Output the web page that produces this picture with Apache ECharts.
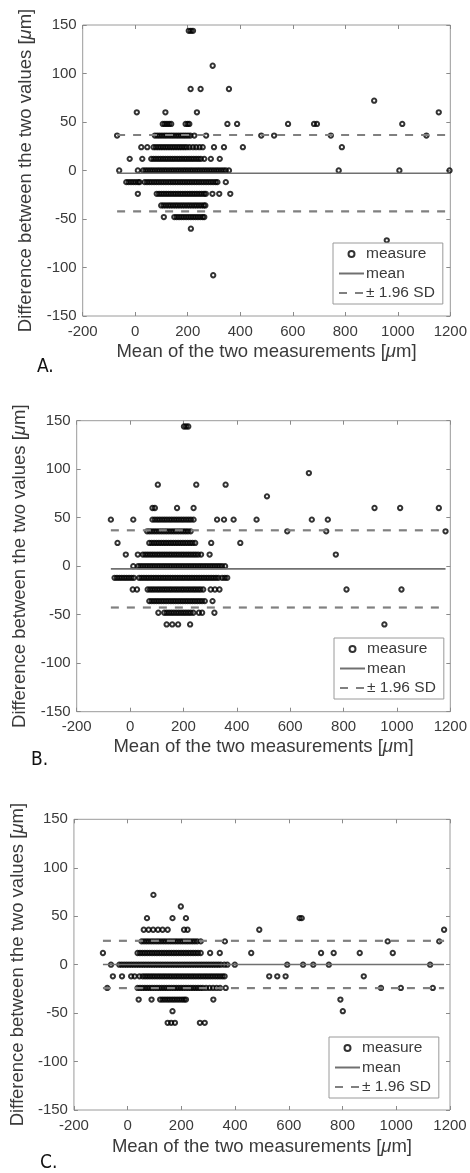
<!DOCTYPE html>
<html>
<head>
<meta charset="utf-8">
<title>Bland-Altman</title>
<style>
  html, body { margin: 0; padding: 0; background: #fff; }
  #main { width: 470px; height: 1173px; }
</style>
</head>
<body>
<div id="main"></div>
<script src="https://cdn.jsdelivr.net/npm/echarts@6/dist/echarts.min.js"></script>
<script>
// axis ticks
var xTicks = [-200, 0, 200, 400, 600, 800, 1000, 1200];
var yTicks = [-150, -100, -50, 0, 50, 100, 150];

// each row: [difference, [means of the two measurements ...]]
var rowsA = [
  [144, [204, 212, 220]],
  [108, [295]],
  [84, [211, 249, 357]],
  [72, [910]],
  [60, [6, 115, 235, 1156]],
  [48, [105, 113, 121, 129, 137, 192, 200, 206, 351, 388, 582, 681, 692, 1017]],
  [36, [-69, 75, 84, 93, 102, 111, 120, 129, 138, 147, 156, 165, 174, 183, 192, 201, 210, 225, 270, 480, 529, 745, 1109]],
  [24, [23, 46, 70, 79, 88, 97, 106, 115, 124, 133, 142, 151, 160, 169, 178, 187, 196, 207, 220, 232, 245, 257, 300, 338, 410, 787]],
  [12, [-21, 27, 61, 70, 79, 88, 97, 106, 115, 124, 133, 142, 151, 160, 169, 178, 187, 196, 205, 214, 223, 232, 241, 250, 263, 288, 322]],
  [0, [-61, 10, 30, 39, 48, 57, 66, 75, 84, 93, 102, 111, 120, 129, 138, 147, 156, 165, 174, 183, 192, 201, 210, 219, 228, 237, 246, 255, 264, 273, 282, 291, 300, 309, 318, 327, 336, 345, 357, 775, 1006, 1197]],
  [-12, [-34, -25, -16, -7, 2, 11, 17, 36, 45, 54, 63, 72, 81, 90, 99, 108, 117, 126, 135, 144, 153, 162, 171, 180, 189, 198, 207, 216, 225, 234, 243, 252, 261, 270, 279, 288, 297, 306, 313, 345]],
  [-24, [10, 82, 91, 100, 109, 118, 127, 136, 145, 154, 163, 172, 181, 190, 199, 208, 217, 226, 235, 244, 253, 262, 269, 294, 320, 362]],
  [-36, [99, 108, 117, 126, 135, 144, 153, 162, 171, 180, 189, 198, 207, 216, 225, 234, 243, 252, 261, 267]],
  [-48, [109, 149, 158, 167, 176, 185, 194, 203, 212, 221, 230, 239, 248, 257, 263]],
  [-60, [212]],
  [-72, [958]],
  [-108, [297]]
];

var rowsB = [
  [144, [202, 210, 218]],
  [96, [670]],
  [84, [104, 248, 358]],
  [72, [513]],
  [60, [84, 93, 176, 238, 916, 1012, 1157]],
  [48, [-72, 12, 84, 93, 102, 111, 120, 129, 138, 147, 156, 165, 174, 183, 192, 201, 210, 219, 228, 238, 326, 352, 388, 474, 681, 741]],
  [36, [64, 73, 82, 91, 100, 109, 118, 127, 136, 145, 154, 163, 172, 181, 190, 199, 208, 217, 227, 589, 735, 1182]],
  [24, [-47, 72, 81, 90, 99, 108, 117, 126, 135, 144, 153, 162, 171, 180, 189, 198, 207, 216, 225, 234, 244, 304, 413]],
  [12, [-16, 29, 48, 57, 66, 75, 84, 93, 102, 111, 120, 129, 138, 147, 156, 165, 174, 183, 192, 201, 210, 219, 228, 237, 246, 255, 266, 298, 771]],
  [0, [12, 30, 39, 48, 57, 66, 75, 84, 93, 102, 111, 120, 129, 138, 147, 156, 165, 174, 183, 192, 201, 210, 219, 228, 237, 246, 255, 264, 273, 282, 291, 300, 309, 318, 327, 336, 345, 356]],
  [-12, [-58, -49, -40, -31, -22, -13, -4, 5, 14, 34, 43, 52, 61, 70, 79, 88, 97, 106, 115, 124, 133, 142, 151, 160, 169, 178, 187, 196, 205, 214, 223, 232, 241, 250, 259, 268, 277, 286, 295, 304, 313, 322, 331, 345, 355, 364]],
  [-24, [10, 26, 66, 75, 84, 93, 102, 111, 120, 129, 138, 147, 156, 165, 174, 183, 192, 201, 210, 219, 228, 237, 246, 255, 264, 274, 302, 318, 335, 811, 1017]],
  [-36, [72, 81, 90, 99, 108, 117, 126, 135, 144, 153, 162, 171, 180, 189, 198, 207, 216, 225, 234, 243, 252, 261, 270, 280, 309]],
  [-48, [106, 128, 137, 146, 155, 164, 173, 182, 191, 200, 209, 218, 227, 237, 258, 270, 316]],
  [-60, [137, 158, 180, 225, 953]]
];

var rowsC = [
  [72, [96]],
  [60, [198]],
  [48, [72, 167, 217, 640, 648]],
  [36, [60, 78, 95, 113, 130, 149, 210, 223, 490, 1178]],
  [24, [52, 61, 70, 79, 88, 97, 106, 115, 124, 133, 142, 151, 160, 169, 178, 187, 196, 205, 214, 223, 232, 241, 250, 259, 272, 362, 968, 1160]],
  [12, [-92, 37, 46, 55, 64, 73, 82, 91, 100, 109, 118, 127, 136, 145, 154, 163, 172, 181, 190, 199, 208, 217, 226, 235, 244, 253, 262, 272, 307, 343, 460, 720, 767, 864, 987]],
  [0, [-62, -31, -22, -13, -4, 5, 14, 23, 32, 41, 50, 59, 68, 77, 86, 95, 104, 113, 122, 131, 140, 149, 158, 167, 176, 185, 194, 203, 212, 221, 230, 239, 248, 257, 266, 275, 284, 293, 302, 311, 320, 329, 338, 347, 360, 371, 399, 594, 653, 691, 749, 1126]],
  [-12, [-55, -21, 13, 26, 44, 56, 65, 74, 83, 92, 101, 110, 119, 128, 137, 146, 155, 164, 173, 182, 191, 200, 209, 218, 227, 236, 245, 254, 263, 272, 281, 290, 299, 308, 317, 326, 335, 344, 353, 361, 527, 557, 588, 879]],
  [-24, [-76, 37, 46, 55, 64, 73, 82, 91, 100, 109, 118, 127, 136, 145, 154, 163, 172, 181, 190, 199, 208, 217, 226, 235, 244, 253, 262, 271, 280, 292, 305, 318, 331, 344, 365, 943, 1017, 1136]],
  [-36, [41, 89, 121, 130, 139, 148, 157, 166, 175, 184, 193, 202, 210, 217, 319, 792]],
  [-48, [167, 801]],
  [-60, [149, 162, 176, 269, 287]]
];

// mean difference and limits of agreement per panel (A, B, C)
var meanDiff = [-2.8, -2.8, 0.2];
var upperLoa = [36.6, 37.0, 24.6];
var lowerLoa = [-42.1, -42.6, -24.2];
var panelLabels = ['A.', 'B.', 'C.'];

var FONT = 'Liberation Sans, Arial, Helvetica, sans-serif';
var TXT = '#3a3a3a';
var HIDE = 'rgba(0,0,0,0)';

var myChart = echarts.init(document.getElementById('main'));

// plot boxes, in pixels
var boxes = [
  { left: 82.7, top: 25, width: 370, height: 291 },
  { left: 76.7, top: 420.7, width: 378.3, height: 291 },
  { left: 72.7, top: 819.3, width: 377.3, height: 290.7 }
];
var nameGapX = [26, 25.5, 27];
var nameGapY = [41, 42, 41.5];
var legendPos = [
  { left: 333, top: 243 },
  { left: 334, top: 638 },
  { left: 329, top: 1037 }
];
var letterPos = [
  { left: 37, top: 358 },
  { left: 31, top: 751 },
  { left: 40, top: 1154 }
];

function toPoints(rows) {
  var pts = [];
  rows.forEach(function (r) {
    r[1].forEach(function (m) { pts.push([m, r[0]]); });
  });
  return pts;
}

var allRows = [rowsA, rowsB, rowsC];
var grid = [], xAxis = [], yAxis = [], series = [], legend = [], graphic = [];

for (var i = 0; i < 3; i++) {
  var b = boxes[i];
  grid.push({ left: b.left, top: b.top, width: b.width, height: b.height,
    show: true, borderColor: '#9a9a9a', borderWidth: 1, backgroundColor: '#fff' });

  var tickStyle = { show: true, inside: true, length: 4, lineStyle: { color: '#8a8a8a', width: 1 } };
  var noLine = { show: false, onZero: false };
  var titleStyle = { fontSize: 18.5, color: TXT, fontFamily: FONT,
    rich: { mu: { fontSize: 18.5, color: TXT, fontFamily: FONT, fontStyle: 'italic' } } };

  var xMain = {
    type: 'value', gridIndex: i, position: 'bottom', min: -200, max: 1200, interval: 200,
    axisLine: noLine, splitLine: { show: false }, axisTick: tickStyle,
    axisLabel: { fontSize: 15, color: TXT, fontFamily: FONT, margin: 8,
      formatter: function (v) { return xTicks.indexOf(v) >= 0 ? String(v) : ''; } },
    name: 'Mean of the two measurements [{mu|μ}m]', nameLocation: 'middle', nameGap: nameGapX[i],
    nameTextStyle: titleStyle
  };
  var xTop = {
    type: 'value', gridIndex: i, position: 'top', min: -200, max: 1200, interval: 200,
    axisLine: noLine, splitLine: { show: false }, axisTick: tickStyle,
    axisLabel: { show: false }
  };
  var yMain = {
    type: 'value', gridIndex: i, position: 'left', min: -150, max: 150, interval: 50,
    axisLine: noLine, splitLine: { show: false }, axisTick: tickStyle,
    axisLabel: { fontSize: 15, color: TXT, fontFamily: FONT, margin: 6,
      formatter: function (v) { return yTicks.indexOf(v) >= 0 ? String(v) : ''; } },
    name: 'Difference between the two values [{mu|μ}m]', nameLocation: 'middle', nameGap: nameGapY[i],
    nameRotate: 90, nameTextStyle: titleStyle
  };
  var yRight = {
    type: 'value', gridIndex: i, position: 'right', min: -150, max: 150, interval: 50,
    axisLine: noLine, splitLine: { show: false }, axisTick: tickStyle,
    axisLabel: { show: false }
  };
  xAxis.push(xMain, xTop);
  yAxis.push(yMain, yRight);

  var pts = toPoints(allRows[i]);
  var xs = pts.map(function (p) { return p[0]; });
  var xMin = Math.min.apply(null, xs), xMax = Math.max.apply(null, xs);

  series.push({
    name: 'measure', type: 'scatter', xAxisIndex: 2 * i, yAxisIndex: 2 * i,
    symbol: 'circle', symbolSize: 4.3, data: pts, silent: true,
    itemStyle: { color: HIDE, borderColor: '#000', borderWidth: 2 }
  });
  series.push({
    name: 'mean', type: 'line', xAxisIndex: 2 * i, yAxisIndex: 2 * i, symbol: 'none', silent: true,
    data: [[xMin, meanDiff[i]], [xMax, meanDiff[i]]],
    itemStyle: { color: '#707070' },
    lineStyle: { color: '#707070', width: 1.6, type: 'solid' }, z: 3
  });
  [upperLoa[i], lowerLoa[i]].forEach(function (v) {
    series.push({
      name: '± 1.96 SD', type: 'line', xAxisIndex: 2 * i, yAxisIndex: 2 * i, symbol: 'none', silent: true,
      data: [[xMin, v], [xMax, v]],
      itemStyle: { color: '#808080' },
      lineStyle: { color: '#808080', width: 2.2, type: [8, 8] }, z: 3
    });
  });

  legend.push({
    orient: 'vertical', left: legendPos[i].left, top: legendPos[i].top,
    selectedMode: false, itemWidth: 25, itemHeight: 6, itemGap: 3.5,
    padding: [3, 8, 3, 5], borderColor: '#9a9a9a', borderWidth: 1, borderRadius: 0,
    backgroundColor: '#fff',
    textStyle: { fontSize: 15.5, color: TXT, fontFamily: FONT, padding: [0, 0, 0, -3] },
    data: [
      { name: 'measure', icon: 'circle',
        itemStyle: { color: HIDE, borderColor: '#000', borderWidth: 2 } },
      { name: 'mean', itemStyle: { color: HIDE, borderColor: HIDE, borderWidth: 0, opacity: 0 } },
      { name: '± 1.96 SD', itemStyle: { color: HIDE, borderColor: HIDE, borderWidth: 0, opacity: 0 } }
    ]
  });

  graphic.push({
    type: 'text', left: letterPos[i].left, top: letterPos[i].top,
    style: { text: panelLabels[i], fontSize: 19, fontWeight: 'normal', fill: '#111',
      fontFamily: 'Liberation Sans Narrow, DejaVu Sans Condensed, ' + FONT }
  });
}

var option = {
  animation: false,
  backgroundColor: '#fff',
  grid: grid,
  xAxis: xAxis,
  yAxis: yAxis,
  legend: legend,
  graphic: graphic,
  series: series
};
myChart.setOption(option);
</script>
</body>
</html>
